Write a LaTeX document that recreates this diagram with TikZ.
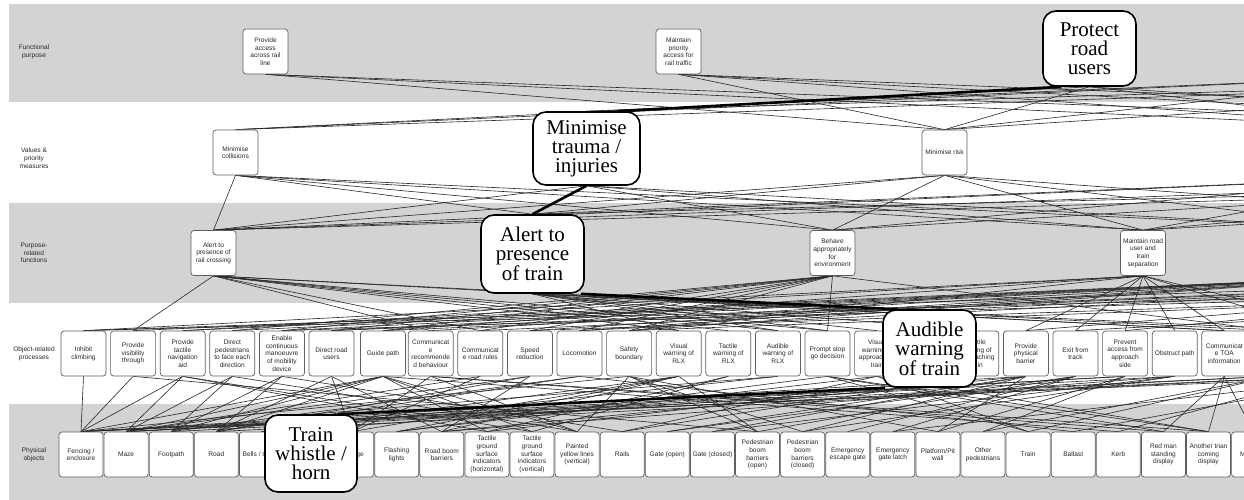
\documentclass[tikz,border=0pt]{standalone}
\usepackage{fontspec}
\newfontfamily\arialf{Liberation Sans}
\newfontfamily\timesf{Liberation Serif}
\definecolor{bandgray}{RGB}{211,211,211}
\definecolor{boxgray}{RGB}{95,95,95}
\definecolor{txtgray}{RGB}{40,40,40}
\pgfdeclarelayer{bg}
\pgfdeclarelayer{lines}
\pgfsetlayers{bg,lines,main}
\begin{document}
\begin{tikzpicture}[x=1pt,y=-1pt,
  sbox/.style={draw=boxgray, fill=white, rounded corners=3pt, line width=0.7pt,
    minimum width=45pt, minimum height=45pt, inner sep=0pt, align=center,
    font=\arialf\fontsize{6.6}{7.7}\selectfont, text=txtgray},
  pbox/.style={sbox, minimum width=44pt},
  ghost/.style={minimum width=45pt, minimum height=45pt, inner sep=0pt},
  bbox/.style={draw=black, fill=white, rounded corners=13pt, line width=1.6pt,
    inner sep=0pt, align=center, font=\timesf\fontsize{21}{19}\selectfont},
  conn/.style={draw=black!85, line width=0.6pt},
  hl/.style={draw=black, line width=2.6pt},
  lab/.style={align=center, font=\arialf\fontsize{6.6}{7.7}\selectfont, text=txtgray}]
\useasboundingbox (0,0) rectangle (1244,500);
\clip (0,0) rectangle (1244,500);
\begin{pgfonlayer}{bg}
  \fill[white] (0,0) rectangle (1244,500);
  \fill[bandgray] (9,4) rectangle (1244,102);
  \fill[bandgray] (9,203) rectangle (1244,303);
  \fill[bandgray] (9,404) rectangle (1244,500);
\end{pgfonlayer}
% row labels
\node[lab] (L1) at (34,52) {Functional\\purpose};
\node[lab] (L2) at (34,158) {Values \&\\priority\\measures};
\node[lab] (L3) at (34,253) {Purpose-\\related\\functions};
\node[lab] (L4) at (34,354) {Object-related\\processes};
\node[lab] (L5) at (34,455) {Physical\\objects};
% row 1
\node[sbox] (fp1) at (265.5,51.5) {Provide\\access\\across rail\\line};
\node[sbox] (fp2) at (678.5,51.5) {Maintain\\priority\\access for\\rail traffic};
\node[ghost] (fX1) at (1450,51.5) {};
\node[ghost] (fX2) at (1800,51.5) {};
% row 2
\node[sbox] (v1) at (235.5,152.5) {Minimise\\collisions};
\node[sbox] (v3) at (944.5,152.5) {Minimise risk};
\node[ghost] (vX1) at (1450,152.5) {};
\node[ghost] (vX2) at (1750,152.5) {};
\node[ghost] (vX3) at (2100,152.5) {};
% row 3
\node[sbox] (p1) at (213.5,253) {Alert to\\presence of\\rail crossing};
\node[sbox] (p3) at (832.5,253) {Behave\\appropriately\\for\\environment};
\node[sbox] (p4) at (1143,253) {Maintain road\\user and\\train\\separation};
\node[ghost] (pX1) at (1400,253) {};
\node[ghost] (pX2) at (1700,253) {};
\node[ghost] (pX3) at (2100,253) {};
% row 4
\node[sbox] (o1) at (83.5,353.5) {Inhibit\\climbing};
\node[sbox] (o2) at (133.1,353.5) {Provide\\visibility\\through};
\node[sbox] (o3) at (182.7,353.5) {Provide\\tactile\\navigation\\aid};
\node[sbox] (o4) at (232.3,353.5) {Direct\\pedestrians\\to face each\\direction};
\node[sbox] (o5) at (281.9,353.5) {Enable\\continuous\\manoeuvre\\of mobility\\device};
\node[sbox] (o6) at (331.5,353.5) {Direct road\\users};
\node[sbox] (o7) at (383,353.5) {Guide path};
\node[sbox] (o8) at (430.7,353.5) {Communicat\\e\\recommende\\d behaviour};
\node[sbox] (o9) at (480.3,353.5) {Communicat\\e road rules};
\node[sbox] (o10) at (529.9,353.5) {Speed\\reduction};
\node[sbox] (o11) at (579.5,353.5) {Locomotion};
\node[sbox] (o12) at (629.1,353.5) {Safety\\boundary};
\node[sbox] (o13) at (678.7,353.5) {Visual\\warning of\\RLX};
\node[sbox] (o14) at (728.3,353.5) {Tactile\\warning of\\RLX};
\node[sbox] (o15) at (777.9,353.5) {Audible\\warning of\\RLX};
\node[sbox] (o16) at (827.5,353.5) {Prompt stop\\go decision};
\node[sbox] (o17) at (877.1,353.5) {Visual\\warning of\\approaching\\train};
\node[sbox] (o19) at (976.3,353.5) {Tactile\\warning of\\approaching\\train};
\node[sbox] (o20) at (1025.9,353.5) {Provide\\physical\\barrier};
\node[sbox] (o21) at (1075.5,353.5) {Exit from\\track};
\node[sbox] (o22) at (1125.1,353.5) {Prevent\\access from\\approach\\side};
\node[sbox] (o23) at (1174.7,353.5) {Obstruct path};
\node[sbox] (o24) at (1224.3,353.5) {Communicat\\e TOA\\information};
\node[ghost] (oX1) at (1273.9,353.5) {};
\node[ghost] (oX2) at (1323.5,353.5) {};
\node[ghost] (oX3) at (1373.1,353.5) {};
% row 5
\node[pbox] (ph1) at (81,454.5) {Fencing /\\enclosure};
\node[pbox] (ph2) at (126.1,454.5) {Maze};
\node[pbox] (ph3) at (171.2,454.5) {Footpath};
\node[pbox] (ph4) at (216.3,454.5) {Road};
\node[pbox] (ph5) at (261.4,454.5) {Bells / sirens};
\node[pbox] (ph7) at (351.6,454.5) {Signage};
\node[pbox] (ph8) at (396.7,454.5) {Flashing\\lights};
\node[pbox] (ph9) at (441.8,454.5) {Road boom\\barriers};
\node[pbox] (ph10) at (486.9,454.5) {Tactile\\ground\\surface\\indicators\\(horizontal)};
\node[pbox] (ph11) at (532,454.5) {Tactile\\ground\\surface\\indicators\\(vertical)};
\node[pbox] (ph12) at (577.1,454.5) {Painted\\yellow lines\\(vertical)};
\node[pbox] (ph13) at (622.2,454.5) {Rails};
\node[pbox] (ph14) at (667.3,454.5) {Gate (open)};
\node[pbox] (ph15) at (712.4,454.5) {Gate (closed)};
\node[pbox] (ph16) at (757.5,454.5) {Pedestrian\\boom\\barriers\\(open)};
\node[pbox] (ph17) at (802.6,454.5) {Pedestrian\\boom\\barriers\\(closed)};
\node[pbox] (ph18) at (847.7,454.5) {Emergency\\escape gate};
\node[pbox] (ph19) at (892.8,454.5) {Emergency\\gate latch};
\node[pbox] (ph20) at (937.9,454.5) {Platform/Pit\\wall};
\node[pbox] (ph21) at (983,454.5) {Other\\pedestrians};
\node[pbox] (ph22) at (1028.1,454.5) {Train};
\node[pbox] (ph23) at (1073.2,454.5) {Ballast};
\node[pbox] (ph24) at (1118.3,454.5) {Kerb};
\node[pbox] (ph25) at (1163.4,454.5) {Red man\\standing\\display};
\node[pbox] (ph26) at (1208.5,454.5) {Another trian\\coming\\display};
\node[pbox] (ph27) at (1253.6,454.5) {Motorists};
% highlighted (large) nodes
\node[bbox, minimum width=93pt, minimum height=75pt] (prot) at (1089.5,48.5) {Protect\\road\\users};
\node[bbox, minimum width=107pt, minimum height=73pt] (trauma) at (586.5,148.5) {Minimise\\trauma /\\injuries};
\node[bbox, minimum width=103pt, minimum height=78pt] (alert) at (532.5,254) {Alert to\\presence\\of train};
\node[bbox, minimum width=93pt, minimum height=77pt] (aud) at (929.5,348.5) {Audible\\warning\\of train};
\node[bbox, minimum width=92pt, minimum height=77pt] (whis) at (311,453.5) {Train\\whistle /\\horn};
\begin{pgfonlayer}{lines}
  % functional purpose -> values
  \foreach \a/\b in {fp1/v3,fp1/vX1,fp1/vX2,fp2/v3,fp2/vX1,fp2/vX2,fp2/vX3,
     prot/v1,prot/v3,prot/vX1,prot/vX2,fX1/v1,fX1/trauma,fX1/v3,fX1/vX1,
     fX2/v1,fX2/trauma,fX2/v3}
    \draw[conn] (\a.south) -- (\b.north);
  % values -> purpose-related functions
  \foreach \a/\b in {v1/p1,v1/alert,v1/p3,v1/p4,v1/pX1,trauma/p1,trauma/p3,trauma/p4,trauma/pX1,
     v3/p1,v3/alert,v3/p3,v3/p4,v3/pX1,v3/pX2,vX1/p1,vX1/alert,vX1/p3,vX1/p4,
     vX2/p1,vX2/p3,vX2/p4,vX2/pX1,vX3/p1,vX3/alert,vX3/p4}
    \draw[conn] (\a.south) -- (\b.north);
  % purpose-related functions -> object-related processes
  \foreach \a/\b in {p1/o2,p1/o8,p1/o9,p1/o13,p1/o14,p1/o15,p1/o16,p1/o24,p1/oX1,
     alert/o13,alert/o15,alert/o16,alert/o17,alert/o19,alert/o24,alert/oX2,
     p3/o4,p3/o5,p3/o6,p3/o7,p3/o9,p3/o10,p3/o11,p3/o12,p3/o16,p3/oX1,
     p4/o1,p4/o3,p4/o7,p4/o12,p4/o20,p4/o21,p4/o22,p4/o23,p4/o24,p4/oX2,p4/oX3,
     pX1/o2,pX1/o3,pX1/o4,pX1/o5,pX1/o6,pX1/o8,pX1/o10,pX1/o11,pX1/o12,
     pX2/o1,pX2/o6,pX2/o7,pX2/o9,pX2/o11,pX2/o20,pX2/o22,
     pX3/o1,pX3/o5,pX3/o10,pX3/o12,pX3/o21}
    \draw[conn] (\a.south) -- (\b.north);
  % object-related processes -> physical objects
  \foreach \a/\b in {o1/ph1,o2/ph1,o2/ph16,o3/ph1,o3/ph2,o3/ph10,o3/ph11,
     o4/ph2,o4/ph3,o4/ph12,o5/ph3,o5/ph4,o5/ph13,o6/ph7,o6/ph4,o6/ph9,
     o7/ph1,o7/ph2,o7/ph3,o7/ph4,o7/ph10,o7/ph11,o7/ph12,o7/ph24,
     o8/ph7,o8/ph12,o8/ph25,o8/ph26,o9/ph7,o9/ph2,o10/ph2,o10/ph4,o10/ph9,
     o11/ph3,o11/ph4,o11/ph23,o12/ph1,o12/ph12,o12/ph16,o12/ph17,o12/ph20,
     o13/ph7,o13/ph8,o13/ph9,o13/ph16,o13/ph5,o14/ph10,o14/ph11,o15/ph5,o15/whis,
     o16/ph8,o16/ph25,o16/ph26,o16/ph22,o17/ph22,o17/ph8,o17/ph26,o17/ph13,
     aud/ph5,o19/ph13,o19/ph10,
     o20/ph1,o20/ph9,o20/ph14,o20/ph15,o20/ph17,o20/ph20,
     o21/ph14,o21/ph18,o21/ph19,o21/ph16,o22/ph1,o22/ph2,o22/ph20,o22/ph21,
     o23/ph9,o23/ph15,o23/ph17,o23/ph2,o24/ph25,o24/ph26,o24/ph27,
     oX1/ph1,oX1/ph3,oX1/ph21,oX1/ph22,oX2/ph2,oX2/ph4,oX2/ph24,oX3/ph1,oX3/ph19,oX3/ph23}
    \draw[conn] (\a.south) -- (\b.north);
  % highlighted path
  \draw[hl] ([xshift=19pt]prot.south west) -- ([xshift=-23pt]trauma.north east);
  \draw[hl] (trauma.south) -- (alert.north);
  \draw[hl] ([xshift=-4pt]alert.south east) -- ([xshift=15pt]aud.north west);
  \draw[hl] ([xshift=3pt]aud.south west) -- ([xshift=-20pt]whis.north east);
\end{pgfonlayer}
\end{tikzpicture}
\end{document}
